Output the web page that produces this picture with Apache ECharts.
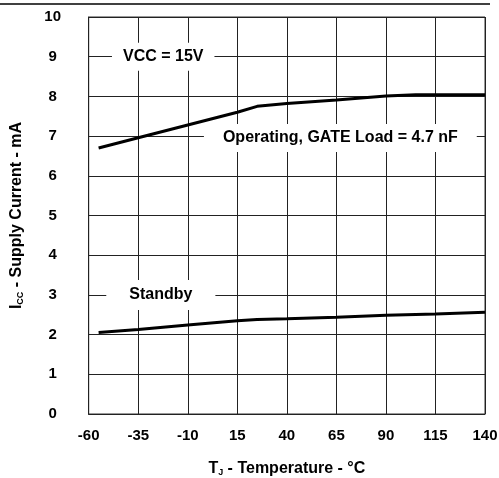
<!DOCTYPE html>
<html>
<head>
<meta charset="utf-8">
<script src="https://cdn.jsdelivr.net/npm/echarts@6/dist/echarts.min.js"></script>
<style>
html,body{margin:0;padding:0;background:#fff;}
#c{width:499px;height:478px;}
</style>
</head>
<body>
<div id="c"></div>
<script>
// Temperature (°C) and supply current (mA)
const operatingTemp = [-55, -35, -10, 15, 25, 40, 65, 90, 105, 125, 140];
const operatingIcc  = [6.70, 6.96, 7.28, 7.60, 7.75, 7.82, 7.91, 8.01, 8.04, 8.04, 8.04];
const standbyTemp = [-55, -35, -10, 15, 25, 40, 65, 90, 115, 140];
const standbyIcc  = [2.05, 2.13, 2.24, 2.35, 2.38, 2.40, 2.44, 2.49, 2.52, 2.56];
const xTicks = [-60, -35, -10, 15, 40, 65, 90, 115, 140];
const yTicks = [0, 1, 2, 3, 4, 5, 6, 7, 8, 9, 10];
const noteTexts = ['VCC = 15V', 'Operating, GATE Load = 4.7 nF', 'Standby'];
const noteAt = [[-22.4, 9], [67, 6.95], [-23.6, 3]];

const FONT = '"Liberation Sans", Arial, sans-serif';
const chart = echarts.init(document.getElementById('c'), null, {renderer: 'canvas'});

const pairs = (xs, ys) => xs.map((x, i) => [x, ys[i]]);
const notePads = [[6, 11], [6, 19], [7, 23]];

chart.setOption({
  animation: false,
  backgroundColor: '#fff',
  grid: {left: 88.7, right: 14, top: 17, bottom: 64, show: true, borderColor: '#333', borderWidth: 1,
         containLabel: false, outerBoundsMode: 'none'},
  xAxis: {
    type: 'value', min: xTicks[0], max: xTicks[xTicks.length - 1], interval: xTicks[1] - xTicks[0],
    axisLine: {show: true, onZero: false, lineStyle: {color: '#222', width: 1}},
    axisTick: {show: false},
    splitLine: {show: true, lineStyle: {color: '#222', width: 1}},
    axisLabel: {color: '#000', fontFamily: FONT, fontWeight: 'bold', fontSize: 15, margin: 14},
    name: '{a|T}{s|J}{a| - Temperature - °C}',
    nameLocation: 'middle', nameGap: 47,
    nameTextStyle: {
      rich: {
        a: {fontFamily: FONT, fontWeight: 'bold', fontSize: 16, color: '#000', lineHeight: 16, verticalAlign: 'bottom'},
        s: {fontFamily: FONT, fontWeight: 'bold', fontSize: 9, color: '#000', lineHeight: 13, verticalAlign: 'bottom'}
      }
    }
  },
  yAxis: {
    type: 'value', min: yTicks[0], max: yTicks[yTicks.length - 1], interval: yTicks[1] - yTicks[0],
    axisLine: {show: true, onZero: false, lineStyle: {color: '#222', width: 1}},
    axisTick: {show: false},
    splitLine: {show: true, lineStyle: {color: '#222', width: 1}},
    axisLabel: {color: '#000', fontFamily: FONT, fontWeight: 'bold', fontSize: 15, margin: 36, align: 'center'},
    name: '{a|I}{s|CC}{a| - Supply Current - mA}',
    nameLocation: 'middle', nameGap: 64,
    nameTextStyle: {
      rich: {
        a: {fontFamily: FONT, fontWeight: 'bold', fontSize: 16, color: '#000', lineHeight: 16, verticalAlign: 'bottom'},
        s: {fontFamily: FONT, fontWeight: 'bold', fontSize: 9, color: '#000', lineHeight: 13, verticalAlign: 'bottom'}
      }
    }
  },
  graphic: [{
    type: 'line', shape: {x1: 0, y1: 4, x2: 490, y2: 4},
    style: {stroke: '#000', lineWidth: 1.5}
  }],
  series: [
    {
      type: 'line', data: pairs(operatingTemp, operatingIcc), symbol: 'none',
      lineStyle: {color: '#000', width: 3}, z: 3
    },
    {
      type: 'line', data: pairs(standbyTemp, standbyIcc), symbol: 'none',
      lineStyle: {color: '#000', width: 3}, z: 3
    },
    {
      type: 'scatter', symbolSize: 0, z: 4, silent: true,
      itemStyle: {opacity: 1},
      data: noteTexts.map((t, i) => ({
        value: noteAt[i],
        label: {
          show: true, position: 'inside', formatter: t, opacity: 1,
          fontFamily: FONT, fontWeight: 'bold', fontSize: 16, color: '#000',
          backgroundColor: '#fff', padding: notePads[i]
        }
      }))
    }
  ]
});
</script>
</body>
</html>
